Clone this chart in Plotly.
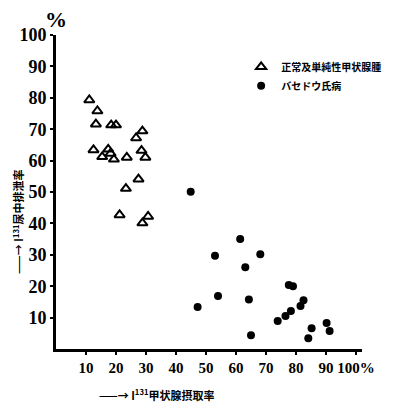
import plotly.graph_objects as go

tri_x = [11.1, 13.8, 13.3, 18.4, 20.0, 28.8, 26.7, 12.5, 17.4, 15.4, 18.2, 19.3, 23.6, 28.5, 29.8, 27.5, 23.3, 21.2, 30.7, 28.8]
tri_y = [79.3, 75.8, 71.6, 71.3, 71.3, 69.4, 67.2, 63.4, 63.6, 61.2, 62.3, 60.4, 61.0, 63.2, 61.0, 54.1, 51.1, 42.7, 42.2, 40.1]
dot_x = [44.9, 61.4, 53.0, 68.1, 63.1, 77.6, 79.0, 54.0, 64.3, 82.5, 81.5, 47.2, 78.3, 76.5, 73.9, 90.2, 85.2, 91.2, 65.0, 84.1]
dot_y = [50.1, 35.0, 29.7, 30.2, 26.0, 20.4, 20.0, 16.9, 15.8, 15.5, 13.7, 13.4, 12.1, 10.5, 8.9, 8.3, 6.6, 5.7, 4.4, 3.4]

x_ticks = [10, 20, 30, 40, 50, 60, 70, 80, 90, 100]
x_ticktext = ["10", "20", "30", "40", "50", "60", "70", "80", "90", "100%"]
y_ticks = [10, 20, 30, 40, 50, 60, 70, 80, 90, 100]

name_tri = "正常及単純性甲状腺腫"
name_dot = "バセドウ氏病"

serif = "Liberation Serif"
jp = "Noto Sans CJK JP"

fig = go.Figure()
fig.add_trace(go.Scatter(x=tri_x, y=tri_y, mode="markers", name=name_tri,
                         marker=dict(symbol="triangle-up-open", size=9, color="black", line=dict(width=2, color="black"))))
fig.add_trace(go.Scatter(x=dot_x, y=dot_y, mode="markers", name=name_dot,
                         marker=dict(symbol="circle", size=8, color="black")))

fig.update_layout(
    width=390, height=396,
    margin=dict(l=48, r=30, t=27, b=55),
    paper_bgcolor="white", plot_bgcolor="white",
    showlegend=True,
    legend=dict(x=0.605, y=0.945, xanchor="left", yanchor="top", bgcolor="rgba(0,0,0,0)",
                font=dict(family=jp, size=10, color="black", weight="bold"), itemwidth=30, tracegroupgap=0),
    xaxis=dict(range=[0, 102], tickvals=x_ticks, ticktext=x_ticktext, showgrid=False, zeroline=False,
               automargin=False, tickangle=0,
               showline=True, linecolor="black", linewidth=3, ticks="outside", ticklen=3, tickwidth=2,
               tickcolor="black", tickfont=dict(family=serif, size=15, color="black", weight="bold")),
    yaxis=dict(range=[0, 100], tickvals=y_ticks, showgrid=False, zeroline=False,
               automargin=False,
               showline=True, linecolor="black", linewidth=3, ticks="outside", ticklen=3, tickwidth=2,
               tickcolor="black", tickfont=dict(family=serif, size=18, color="black", weight="bold")),
    annotations=[
        dict(text="<b>%</b>", xref="paper", yref="paper", x=0.0, y=1.0, xanchor="center", yanchor="bottom",
             showarrow=False, font=dict(family=serif, size=22, color="black"), yshift=1),
        dict(text="<b>——→ I<sup>131</sup>甲状腺摂取率</b>", xref="paper", yref="paper", x=0.33, y=-0.146,
             xanchor="center", yanchor="middle", showarrow=False, font=dict(family=jp, size=11, color="black")),
        dict(text="<b>——→ I<sup>131</sup>尿中排泄率</b>", xref="paper", yref="paper", x=-0.125, y=0.404,
             xanchor="center", yanchor="middle", textangle=-90, showarrow=False,
             font=dict(family=jp, size=11, color="black")),
    ],
)

fig.write_html("out.html")
